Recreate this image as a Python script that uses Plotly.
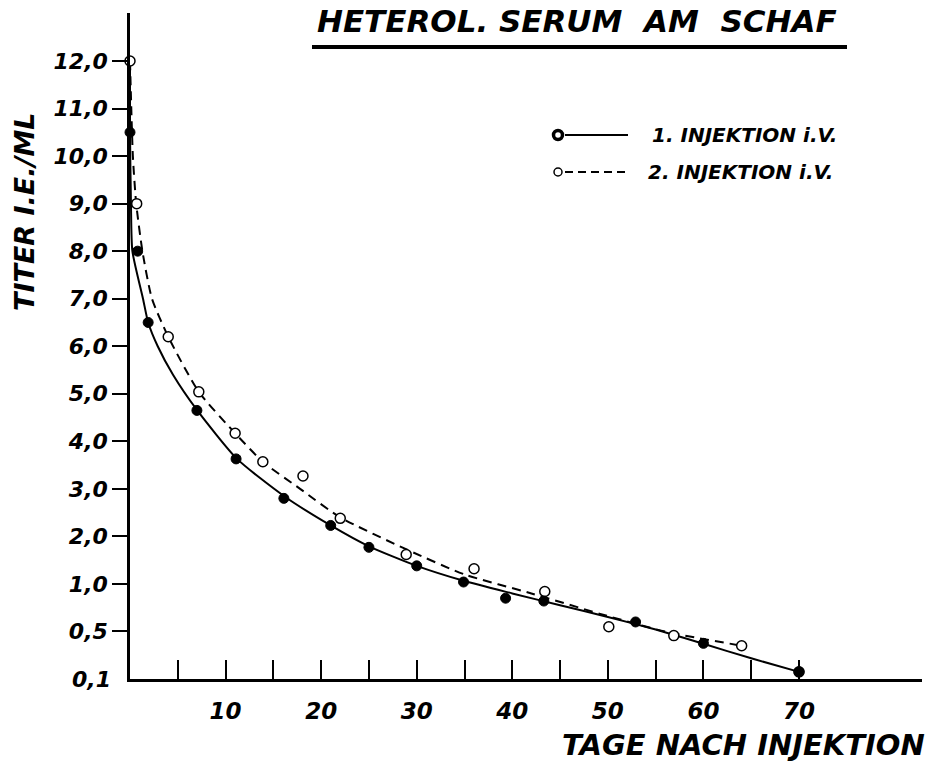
import numpy as np
import plotly.graph_objects as go

# ---------------- data ----------------
# y axis: unevenly spaced titer ticks, drawn at equal spacing
y_tick_values = [0.1, 0.5, 1.0, 2.0, 3.0, 4.0, 5.0, 6.0, 7.0, 8.0, 9.0, 10.0, 11.0, 12.0]
y_tick_text = ["0,1", "0,5", "1,0", "2,0", "3,0", "4,0", "5,0", "6,0",
               "7,0", "8,0", "9,0", "10,0", "11,0", "12,0"]

x_tick_values = [5, 10, 15, 20, 25, 30, 35, 40, 45, 50, 55, 60, 65, 70]
x_tick_text = ["", "10", "", "20", "", "30", "", "40", "", "50", "", "60", "", "70"]

# 1. Injektion i.v. (filled dots)
days_1 = [0, 0.8, 1.9, 7.0, 11.1, 16.1, 21.0, 25.0, 30.0, 34.9, 39.3, 43.3, 52.9, 60.0, 70.0]
titer_1 = [10.5, 8.0, 6.5, 4.65, 3.63, 2.8, 2.23, 1.77, 1.38, 1.04, 0.85, 0.82, 0.60, 0.40, 0.16]

# 2. Injektion i.v. (open circles)
days_2 = [0, 0.7, 4.0, 7.2, 11.0, 13.9, 18.1, 22.0, 28.9, 36.0, 43.4, 50.1, 56.9, 64.0, 70.0]
titer_2 = [12.0, 9.0, 6.2, 5.04, 4.17, 3.57, 3.27, 2.38, 1.62, 1.32, 0.92, 0.55, 0.465, 0.38, 0.16]

# hand-drawn fitted curves
curve_1_days = [0, 0, 0.1, 0.25, 1.36, 1.9, 2.9, 4.5, 7.0, 11.2, 16.1,
                21, 25, 30, 35, 40, 45, 50, 55, 60, 65, 70]
curve_1_titer = [12.0, 10.5, 9.0, 8.0, 7.0, 6.5, 6.0, 5.4, 4.66, 3.63, 2.85,
                 2.23, 1.79, 1.38, 1.06, 0.90, 0.775, 0.653, 0.52, 0.396, 0.274, 0.16]

curve_2_days = [0, 0.3, 0.65, 1.3, 2.3, 4.0, 7.2, 11.0, 13.9, 17.8, 22.0,
                29.0, 35.0, 42.0, 49.2, 56.2, 64.0]
curve_2_titer = [12.0, 10.0, 9.0, 8.0, 7.0, 6.2, 5.04, 4.17, 3.57, 3.0, 2.40,
                 1.72, 1.20, 0.90, 0.685, 0.495, 0.38]

title_text = "HETEROL. SERUM&nbsp; AM&nbsp; SCHAF"
x_title = "TAGE NACH INJEKTION"
y_title = "TITER I.E./ML"
legend_text = ["1. INJEKTION i.V.", "2. INJEKTION i.V."]

# ---------------- scale: titer -> equally spaced tick position ----------------
tick_pos = list(range(len(y_tick_values)))


def to_pos(values):
    return np.interp(values, y_tick_values, tick_pos)


FONT = "DejaVu Sans"


def font(size):
    return dict(family=FONT, size=size, color="black", weight="bold", style="italic")


fig = go.Figure()

fig.add_trace(go.Scatter(x=curve_1_days, y=to_pos(curve_1_titer), mode="lines",
                         line=dict(color="black", width=2, shape="spline", smoothing=0.6),
                         cliponaxis=False, showlegend=False, hoverinfo="skip"))
fig.add_trace(go.Scatter(x=curve_2_days, y=to_pos(curve_2_titer), mode="lines",
                         line=dict(color="black", width=2, dash="9px,6px", shape="spline", smoothing=0.6),
                         cliponaxis=False, showlegend=False, hoverinfo="skip"))
fig.add_trace(go.Scatter(x=days_2, y=to_pos(titer_2), mode="markers",
                         marker=dict(symbol="circle", size=10, color="white",
                                     line=dict(color="black", width=1.5)),
                         cliponaxis=False, showlegend=False, name=legend_text[1]))
fig.add_trace(go.Scatter(x=days_1, y=to_pos(titer_1), mode="markers",
                         marker=dict(symbol="circle", size=10, color="black",
                                     line=dict(color="black", width=1)),
                         cliponaxis=False, showlegend=False, name=legend_text[0]))

# ---------------- layout geometry ----------------
L, R, T, B = 130, 9, 13, 90
W, H = 931, 769
pw, ph = W - L - R, H - T - B
x_max = 82.87
y_max = 14.01


def px(xp):
    return (xp - L) / pw


def py(yp):
    return (H - B - yp) / ph


fig.update_layout(
    width=W, height=H,
    margin=dict(l=L, r=R, t=T, b=B, autoexpand=False),
    paper_bgcolor="white", plot_bgcolor="white",
    showlegend=False,
    xaxis=dict(range=[0, x_max], showgrid=False, zeroline=False, automargin=False,
               showline=True, linecolor="black", linewidth=2.5,
               tickmode="array", tickvals=x_tick_values, ticktext=x_tick_text,
               ticks="inside", ticklen=19, tickwidth=2, tickcolor="black",
               tickfont=font(23), ticklabelstandoff=10),
    yaxis=dict(range=[0, y_max], showgrid=False, zeroline=False, automargin=False,
               showline=True, linecolor="black", linewidth=2.5,
               tickmode="array", tickvals=tick_pos[1:], ticktext=y_tick_text[1:],
               ticks="outside", ticklen=15, tickwidth=2, tickcolor="black",
               tickfont=font(22)),
)

annotations = [
    dict(text=y_tick_text[0], x=px(113), y=0, xref="paper", yref="paper",
         xanchor="right", yanchor="middle", showarrow=False, font=font(22)),
    dict(text=title_text, x=px(577), y=py(21), xref="paper", yref="paper",
         xanchor="center", yanchor="middle", showarrow=False, font=font(31)),
    dict(text=x_title, x=px(927), y=py(745), xref="paper", yref="paper",
         xanchor="right", yanchor="middle", showarrow=False, font=font(29)),
    dict(text=y_title, x=px(24), y=py(212), xref="paper", yref="paper",
         xanchor="center", yanchor="middle", textangle=-90, showarrow=False, font=font(27)),
    dict(text=legend_text[0], x=px(650), y=py(135), xref="paper", yref="paper",
         xanchor="left", yanchor="middle", showarrow=False, font=font(20)),
    dict(text=legend_text[1], x=px(646), y=py(172), xref="paper", yref="paper",
         xanchor="left", yanchor="middle", showarrow=False, font=font(20)),
]
fig.update_layout(annotations=annotations)

shapes = [
    # title underline
    dict(type="line", xref="paper", yref="paper", x0=px(312), x1=px(847),
         y0=py(47), y1=py(47), line=dict(color="black", width=4)),
    # legend lines
    dict(type="line", xref="paper", yref="paper", x0=px(565), x1=px(628),
         y0=py(135), y1=py(135), line=dict(color="black", width=2)),
    dict(type="line", xref="paper", yref="paper", x0=px(565), x1=px(628),
         y0=py(172), y1=py(172), line=dict(color="black", width=2, dash="8px,5px")),
    # legend markers
    dict(type="circle", xref="paper", yref="paper", xsizemode="pixel", ysizemode="pixel",
         xanchor=px(558), yanchor=py(135), x0=-4.5, x1=4.5, y0=-4.5, y1=4.5,
         fillcolor="white", line=dict(color="black", width=3.5)),
    dict(type="circle", xref="paper", yref="paper", xsizemode="pixel", ysizemode="pixel",
         xanchor=px(558), yanchor=py(172), x0=-4, x1=4, y0=-4, y1=4,
         fillcolor="white", line=dict(color="black", width=1.5)),
]
fig.update_layout(shapes=shapes)

fig.write_html("out.html", config={"displayModeBar": False},
               post_script="document.body.style.margin='0';")
